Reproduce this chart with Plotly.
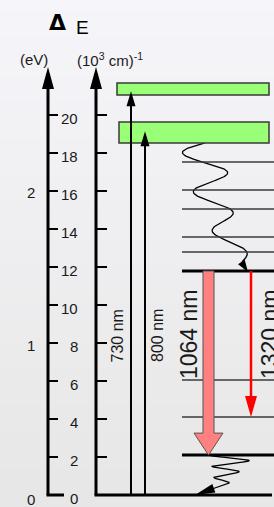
import numpy as np
import plotly.graph_objects as go

# ---------------- data (energies in 10^3 cm^-1) ----------------
cm_ticks = [0, 2, 4, 6, 8, 10, 12, 14, 16, 18, 20]
ev_ticks = [0, 1, 2]
EV_TO_KCM = 8.0655
pump_band_lo = [18.53, 21.05]
pump_band_hi = [19.63, 21.68]
pump_labels = ["800 nm", "730 nm"]
pump_tips = [19.15, 21.25]
thin_levels = [17.53, 16.05, 15.05, 13.58, 12.79, 6.05, 4.10]
thick_levels = [11.79, 2.10]
ground_level = 0.0
laser_labels = ["1064 nm", "1320 nm"]
laser_upper = 11.79
laser_lower = [2.10, 4.10]

# ---------------- geometry helpers ----------------
W, H = 274, 507
PX = 19.0      # pixels per 10^3 cm^-1
Y0 = 495.0     # pixel row of zero energy


def vy(px):
    return (Y0 - px) / PX


def py(v):
    return Y0 - v * PX


shapes = []

# background gradient
N = 40
c0 = np.array([246, 246, 250])
c1 = np.array([231, 231, 231])
for i in range(N):
    c = c0 + (c1 - c0) * i / (N - 1)
    shapes.append(dict(type="rect", xref="paper", yref="paper", x0=0, x1=1,
                       y0=1 - (i + 1) / N, y1=1 - i / N + 0.001,
                       fillcolor="rgb(%d,%d,%d)" % tuple(c), line_width=0, layer="below"))


def tri(tipx, tipy_px, dx, dy, L, Wd, color="black", lw=0, lc="black"):
    n = np.hypot(dx, dy)
    ux, uy = dx / n, dy / n
    bx, by = tipx - ux * L, tipy_px - uy * L
    px_, py_ = -uy, ux
    pts = [(tipx, tipy_px), (bx + px_ * Wd / 2, by + py_ * Wd / 2), (bx - px_ * Wd / 2, by - py_ * Wd / 2)]
    path = "M " + " L ".join("%.2f,%.4f" % (x, vy(y)) for x, y in pts) + " Z"
    shapes.append(dict(type="path", path=path, fillcolor=color,
                       line=dict(color=lc, width=lw)))


def line(x0, v0, x1, v1, color="black", width=2):
    shapes.append(dict(type="line", x0=x0, x1=x1, y0=v0, y1=v1,
                       line=dict(color=color, width=width)))


# ---------------- axes ----------------
AX_EV, AX_CM = 48, 96
for ax in (AX_EV, AX_CM):
    line(ax, ground_level, ax, vy(86), width=3)
    tri(ax, 67, 0, -1, 22, 12)
# bottom of eV axis
line(AX_EV - 1.5, ground_level, 64, ground_level, width=3)
# ticks
for t in cm_ticks[1:]:
    line(AX_EV, t, AX_EV + 10, t, width=2)
    line(AX_CM, t, AX_CM + 11, t, width=2)

# ---------------- ground + levels ----------------
line(AX_CM - 1.5, ground_level, 272, ground_level, width=3)
for lv in thin_levels:
    line(182, lv, 274, lv, color="#3a3a3a", width=1.5)
for lv in thick_levels:
    line(182, lv, 274, lv, color="black", width=3)

# pump bands
band_x0 = [119, 117]
for lo, hi, x0 in zip(pump_band_lo, pump_band_hi, band_x0):
    shapes.append(dict(type="rect", x0=x0, x1=269, y0=lo, y1=hi,
                       fillcolor="#99ff77", line=dict(color="#3a3a3a", width=1.5)))

# pump arrows
pump_x = [145, 131]
for x, tip in zip(pump_x, pump_tips):
    line(x, ground_level, x, tip - 0.5, width=2)
    tri(x, py(tip), 0, -1, 15, 9)

# ---------------- laser transitions ----------------
# 1064 nm block arrow
sx0, sx1, hx0, hx1 = 203, 214, 194, 223
tipv = laser_lower[0]
basev = tipv + 22 / PX
xc = (hx0 + hx1) / 2
path = ("M %g,%g L %g,%g L %g,%g L %g,%g L %g,%g L %g,%g L %g,%g Z" %
        (sx0, laser_upper, sx1, laser_upper, sx1, basev, hx1, basev, xc, tipv,
         hx0, basev, sx0, basev))
shapes.append(dict(type="path", path=path, fillcolor="#ff8080",
                   line=dict(color="#555555", width=1)))
# 1320 nm thin arrow
line(251, laser_upper, 251, laser_lower[1] + 20 / PX, color="#ff0000", width=2.5)
tri(251, py(laser_lower[1]), 0, 1, 21, 12, color="#ff0000")

# ---------------- non-radiative wavy arrows ----------------
traces = []
t = np.linspace(0, 1, 300)
# upper relaxation: pump band -> upper laser level
y_px = py(pump_band_lo[0]) + (py(laser_upper) - 9 - py(pump_band_lo[0])) * t
x_px = 205 + 37 * t ** 2 - 24 * (1 - 0.6 * t) * np.sin(6 * np.pi * t)
traces.append(go.Scatter(x=x_px, y=vy(y_px), mode="lines",
                         line=dict(color="black", width=1.3), hoverinfo="skip"))
tri(248, py(laser_upper) + 1, 0.55, 0.83, 12, 8)
# lower relaxation: lower laser level -> ground
y2 = py(laser_lower[0]) + 28 * t
x2 = 232 - 10 * t - (22 - 15 * t) * np.cos(5 * np.pi * t)
x2 = np.append(x2, 212)
y2 = np.append(y2, 489)
traces.append(go.Scatter(x=x2, y=vy(y2), mode="lines",
                         line=dict(color="black", width=1.3), hoverinfo="skip"))
tri(195, py(ground_level), -34, 12, 20, 9)

# ---------------- texts ----------------
FONT = "Liberation Sans, Arial, sans-serif"
TXT = "#1a1a1a"
ann = []
for tk in cm_ticks:
    ann.append(dict(x=80, y=tk, text=str(tk), xanchor="right", yanchor="middle",
                    yshift=-3, showarrow=False, font=dict(size=15, color=TXT, family=FONT)))
for e in ev_ticks:
    ann.append(dict(x=31, y=e * EV_TO_KCM, text=str(e), xanchor="center", yanchor="middle",
                    yshift=-4, showarrow=False, font=dict(size=15, color=TXT, family=FONT)))
ann.append(dict(x=34, y=vy(59), text="(eV)", showarrow=False,
                font=dict(size=15, color=TXT, family=FONT)))
ann.append(dict(x=110, y=vy(59), text="(10<sup>3</sup> cm)<sup>-1</sup>", showarrow=False,
                font=dict(size=15, color=TXT, family=FONT)))
ann.append(dict(x=57.5, y=vy(22), text="<b>\u0394</b>", showarrow=False,
                font=dict(size=22, color="black", family="DejaVu Sans")))
ann.append(dict(x=82, y=vy(27), text="E", showarrow=False,
                font=dict(size=19, color="black", family=FONT)))
# pump labels
for x, lab in zip([157, 116.5], pump_labels):
    ann.append(dict(x=x, y=vy(336), text=lab, textangle=-90, showarrow=False,
                    font=dict(size=16, color=TXT, family=FONT)))
for x, lab in zip([189, 270], laser_labels):
    ann.append(dict(x=x, y=vy(334), text=lab, textangle=-90, showarrow=False,
                    font=dict(size=23, color=TXT, family=FONT)))

fig = go.Figure(traces)
fig.update_layout(
    width=W, height=H, margin=dict(l=0, r=0, t=0, b=0),
    paper_bgcolor="#eeeeee", plot_bgcolor="rgba(0,0,0,0)",
    showlegend=False, shapes=shapes, annotations=ann,
    xaxis=dict(range=[0, W], visible=False, fixedrange=True),
    yaxis=dict(range=[vy(H), vy(0)], visible=False, fixedrange=True),
)
fig.write_html("out.html", config={"displayModeBar": False},
               post_script="document.body.style.margin='0';document.body.style.overflow='hidden';")
